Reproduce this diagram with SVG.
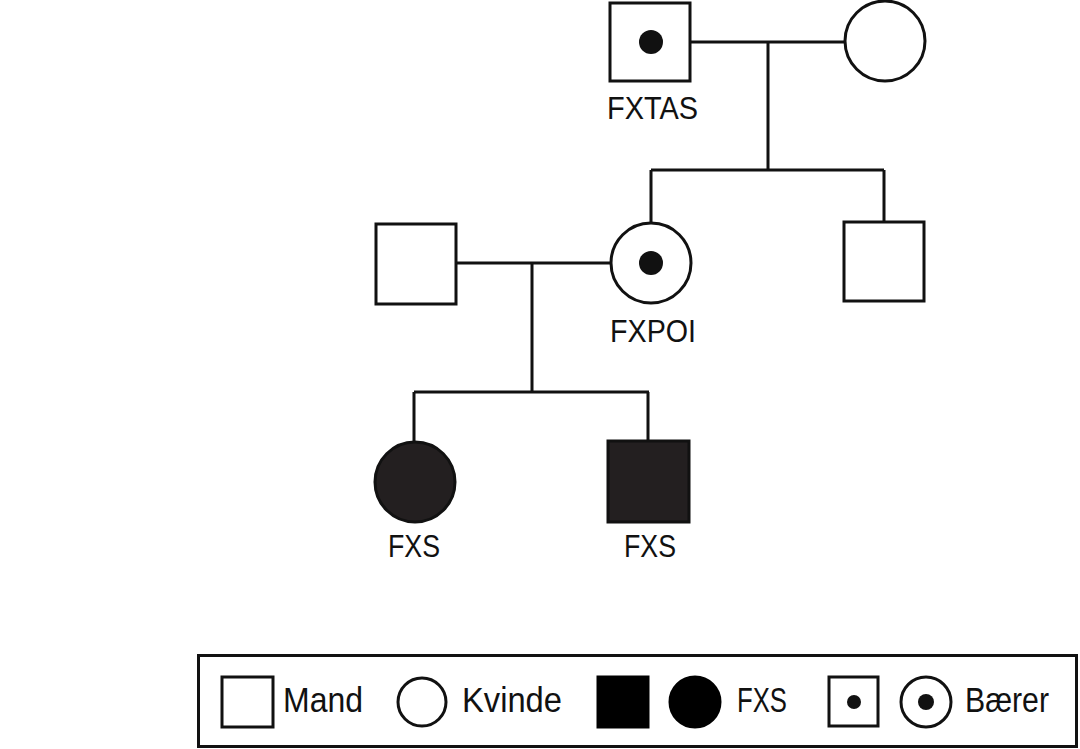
<svg xmlns="http://www.w3.org/2000/svg" width="1080" height="749" viewBox="0 0 1080 749">
<style>
.s{fill:#fff;stroke:#111;stroke-width:3}
.a{fill:#231f20;stroke:#111;stroke-width:3}
.b{fill:#000;stroke:#000;stroke-width:3}
.d{fill:#111}
.l{stroke:#111;stroke-width:3;fill:none}
text{font-family:"Liberation Sans",Arial,sans-serif;fill:#111}
.t{font-size:32px}
.g{font-size:35px}
</style>
<rect width="1080" height="749" fill="#fff"/>
<g id="connectors">
<path class="l" d="M690 42H845M768 42V170M651 170H884M651 170V224M884 170V222M457 263H611M532 263V392M414 392H649M414 392V441M648 392V441"/>
</g>
<g id="grandfather">
<rect class="s" x="610" y="3" width="80" height="78"/>
<circle class="d" cx="651" cy="42" r="12"/>
<text class="t" x="607" y="119" textLength="91" lengthAdjust="spacingAndGlyphs">FXTAS</text>
</g>
<g id="grandmother">
<circle class="s" cx="885" cy="41" r="40"/>
</g>
<g id="mother">
<circle class="s" cx="651" cy="263" r="40"/>
<circle class="d" cx="651" cy="263" r="12"/>
<text class="t" x="610" y="342" textLength="86" lengthAdjust="spacingAndGlyphs">FXPOI</text>
</g>
<g id="uncle">
<rect class="s" x="844" y="222" width="80" height="79"/>
</g>
<g id="father">
<rect class="s" x="376" y="224" width="80" height="80"/>
</g>
<g id="daughter">
<circle class="a" cx="415" cy="482" r="40"/>
<text class="t" x="388" y="557" textLength="52" lengthAdjust="spacingAndGlyphs">FXS</text>
</g>
<g id="son">
<rect class="a" x="608" y="441" width="81" height="81"/>
<text class="t" x="624" y="557" textLength="52" lengthAdjust="spacingAndGlyphs">FXS</text>
</g>
<g id="legend">
<rect class="l" x="198.5" y="655.5" width="878" height="91"/>
<rect class="s" x="222" y="677" width="51" height="50"/>
<text class="g" x="283" y="712" textLength="80" lengthAdjust="spacingAndGlyphs">Mand</text>
<circle class="s" cx="422" cy="702" r="24"/>
<text class="g" x="462" y="712" textLength="100" lengthAdjust="spacingAndGlyphs">Kvinde</text>
<rect class="b" x="598" y="677" width="50" height="50"/>
<circle class="b" cx="695" cy="702" r="25"/>
<text class="g" x="737" y="712" textLength="50" lengthAdjust="spacingAndGlyphs">FXS</text>
<rect class="s" x="829" y="677" width="49" height="49"/>
<circle class="d" cx="854" cy="702" r="7"/>
<circle class="s" cx="926" cy="702" r="25"/>
<circle class="d" cx="926" cy="702" r="8"/>
<text class="g" x="965" y="712" textLength="84" lengthAdjust="spacingAndGlyphs">Bærer</text>
</g>
</svg>
